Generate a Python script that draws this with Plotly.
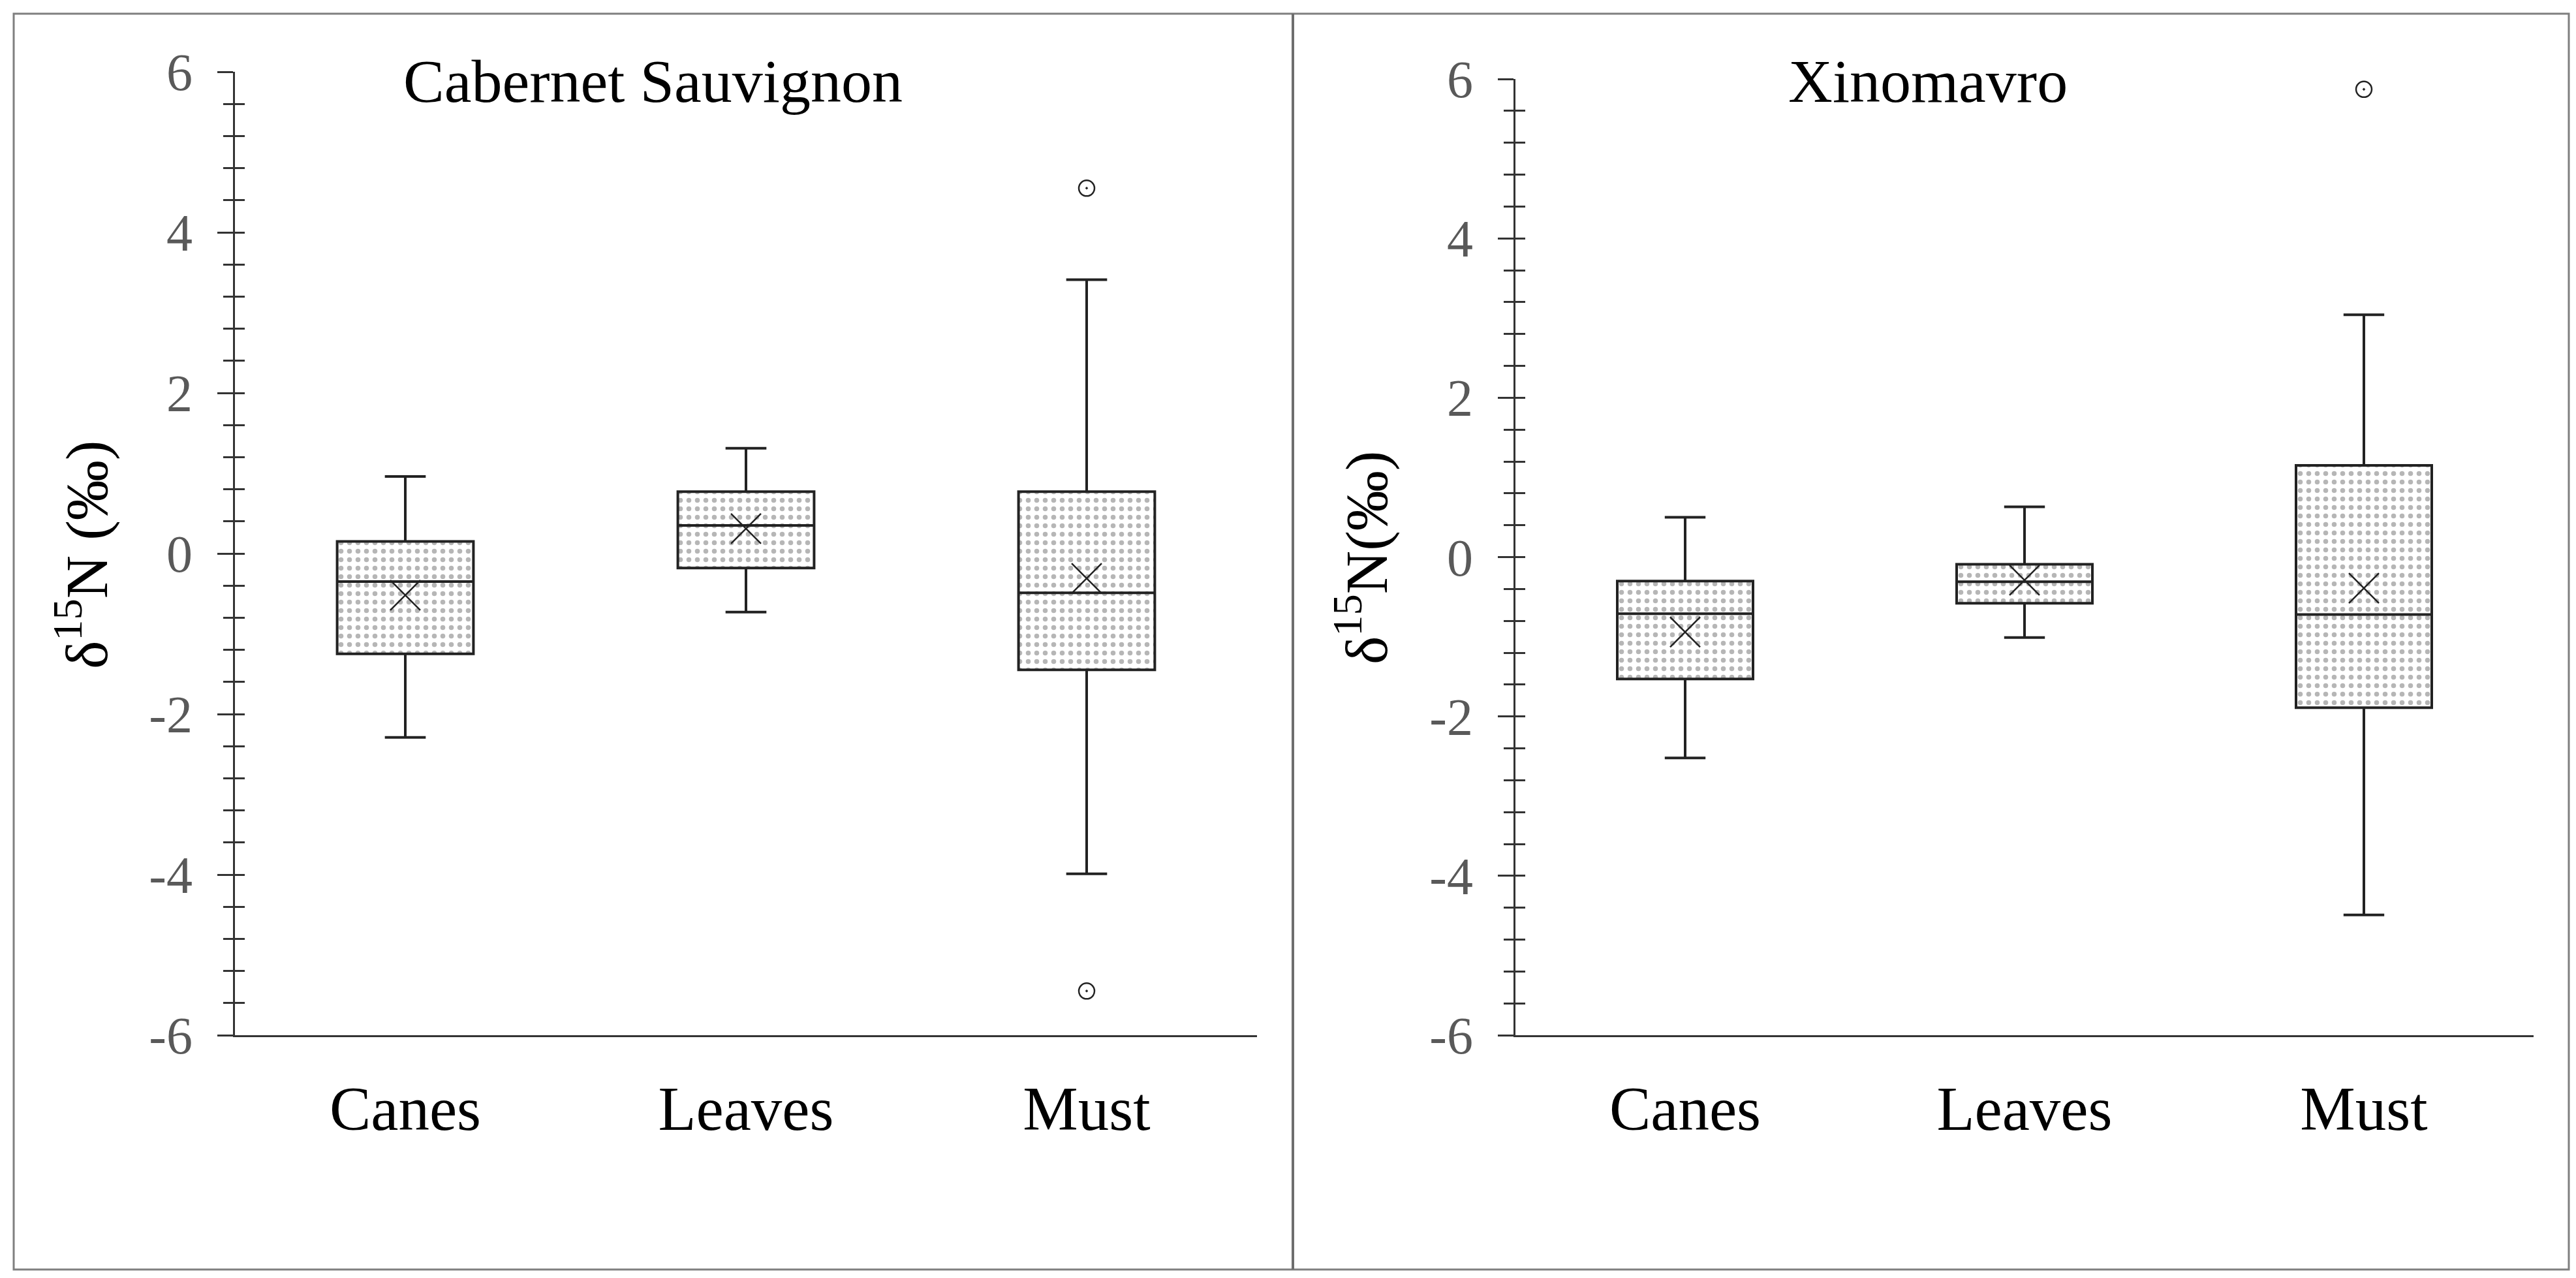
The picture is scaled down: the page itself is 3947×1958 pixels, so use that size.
import plotly.graph_objects as go

cats = ["Canes", "Leaves", "Must"]

# Cabernet Sauvignon
cs_q1 = [-1.25, -0.18, -1.45]
cs_median = [-0.35, 0.35, -0.49]
cs_q3 = [0.15, 0.77, 0.77]
cs_low = [-2.29, -0.73, -3.99]
cs_high = [0.96, 1.31, 3.41]
cs_mean = [-0.52, 0.31, -0.31]
cs_out_x = ["Must", "Must"]
cs_out_y = [4.55, -5.45]

# Xinomavro
xm_q1 = [-1.53, -0.58, -1.89]
xm_median = [-0.71, -0.31, -0.72]
xm_q3 = [-0.30, -0.09, 1.15]
xm_low = [-2.52, -1.01, -4.49]
xm_high = [0.50, 0.63, 3.04]
xm_mean = [-0.94, -0.29, -0.39]
xm_out_x = ["Must"]
xm_out_y = [5.87]

y_ticks = [-6, -4, -2, 0, 2, 4, 6]
y_ticktext = ["-6", "-4", "-2", "0", "2", "4", "6"]

W, H = 3947, 1958
FONT = "Liberation Serif"
LINE = "#222222"


def px(x):
    return x / W


def py(y):
    return 1 - y / H


def panel(q1, med, q3, low, high, mean, out_x, out_y, xa, ya):
    span = [b - a for a, b in zip(q1, q3)]
    return [
        go.Bar(x=cats, y=span, base=q1, width=0.4, xaxis=xa, yaxis=ya,
               marker=dict(color="white", line=dict(width=0),
                           pattern=dict(shape=".", fgcolor="#6e6e6e", bgcolor="white",
                                        size=13, solidity=0.26)),
               showlegend=False, hoverinfo="skip"),
        go.Box(x=cats, q1=q1, median=med, q3=q3, lowerfence=low, upperfence=high,
               width=0.4, whiskerwidth=0.3, boxpoints=False, xaxis=xa, yaxis=ya,
               fillcolor="rgba(0,0,0,0)", line=dict(color=LINE, width=4),
               showlegend=False),
        go.Scatter(x=cats, y=mean, mode="markers", xaxis=xa, yaxis=ya,
                   marker=dict(symbol="x-thin", size=46, color=LINE,
                               line=dict(color=LINE, width=2.5)),
                   showlegend=False, hoverinfo="skip"),
        go.Scatter(x=out_x, y=out_y, mode="markers", xaxis=xa, yaxis=ya,
                   marker=dict(symbol="circle-open-dot", size=24, color=LINE,
                               line=dict(color=LINE, width=2.5)),
                   showlegend=False, hoverinfo="skip"),
    ]


fig = go.Figure()
for t in panel(cs_q1, cs_median, cs_q3, cs_low, cs_high, cs_mean, cs_out_x, cs_out_y, "x", "y"):
    fig.add_trace(t)
for t in panel(xm_q1, xm_median, xm_q3, xm_low, xm_high, xm_mean, xm_out_x, xm_out_y, "x2", "y2"):
    fig.add_trace(t)
# dummy traces so the inward tick axes get drawn
fig.add_trace(go.Scatter(x=[None], y=[None], xaxis="x", yaxis="y3", showlegend=False, hoverinfo="skip"))
fig.add_trace(go.Scatter(x=[None], y=[None], xaxis="x2", yaxis="y4", showlegend=False, hoverinfo="skip"))

xaxis_style = dict(type="category", range=[-0.5, 2.5], showline=True, linecolor="#333333",
                   linewidth=3, ticks="", showgrid=False, zeroline=False,
                   tickfont=dict(family=FONT, size=95, color="black"),
                   ticklabelstandoff=28, automargin=False, fixedrange=True)
yaxis_style = dict(range=[-6, 6], showline=True, linecolor="#333333", linewidth=3,
                   tickvals=y_ticks, ticktext=y_ticktext, ticks="outside", ticklen=24,
                   tickwidth=3, tickcolor="#333333",
                   minor=dict(dtick=0.4, tick0=-6, ticks="outside", ticklen=15,
                              tickwidth=3, tickcolor="#333333", showgrid=False),
                   showgrid=False, zeroline=False,
                   tickfont=dict(family=FONT, size=80, color="#595959"),
                   ticklabelstandoff=22, automargin=False, fixedrange=True)
inner_style = dict(range=[-6, 6], showline=False, showticklabels=False,
                   tickvals=y_ticks, ticks="inside", ticklen=15, tickwidth=3,
                   tickcolor="#333333",
                   minor=dict(dtick=0.4, tick0=-6, ticks="inside", ticklen=15,
                              tickwidth=3, tickcolor="#333333", showgrid=False),
                   showgrid=False, zeroline=False, automargin=False, fixedrange=True)

fig.update_layout(
    width=W, height=H,
    margin=dict(l=0, r=0, t=0, b=0, autoexpand=False),
    paper_bgcolor="white", plot_bgcolor="rgba(0,0,0,0)",
    barmode="overlay",
    xaxis=dict(domain=[px(360), px(1926)], anchor="y", **xaxis_style),
    xaxis2=dict(domain=[px(2322), px(3882)], anchor="y2", **xaxis_style),
    yaxis=dict(domain=[py(1586), py(110)], anchor="x", **yaxis_style),
    yaxis2=dict(domain=[py(1586), py(121)], anchor="x2", **yaxis_style),
    yaxis3=dict(overlaying="y", anchor="x", **inner_style),
    yaxis4=dict(overlaying="y2", anchor="x2", **inner_style),
    annotations=[
        dict(text="Cabernet Sauvignon", x=px(1001), y=py(124), xref="paper", yref="paper",
             xanchor="center", yanchor="middle",
             showarrow=False, font=dict(family=FONT, size=94, color="black")),
        dict(text="Xinomavro", x=px(2954), y=py(124), xref="paper", yref="paper",
             xanchor="center", yanchor="middle",
             showarrow=False, font=dict(family=FONT, size=94, color="black")),
        dict(text="δ<sup>15</sup>N (‰)", x=px(126), y=py(850), xref="paper", yref="paper",
             xanchor="center", yanchor="middle",
             textangle=-90, showarrow=False, font=dict(family=FONT, size=92, color="black")),
        dict(text="δ<sup>15</sup>N(‰)", x=px(2087), y=py(855), xref="paper", yref="paper",
             xanchor="center", yanchor="middle",
             textangle=-90, showarrow=False, font=dict(family=FONT, size=92, color="black")),
    ],
    shapes=[
        dict(type="rect", xref="paper", yref="paper", x0=px(21), x1=px(3936),
             y0=py(1945), y1=py(21), line=dict(color="#7f7f7f", width=3)),
        dict(type="line", xref="paper", yref="paper", x0=px(1981), x1=px(1981),
             y0=py(1945), y1=py(21), line=dict(color="#6e6e6e", width=4)),
    ],
)

fig.write_html("out.html", config={"displayModeBar": False},
               post_script="document.body.style.margin='0px';")
